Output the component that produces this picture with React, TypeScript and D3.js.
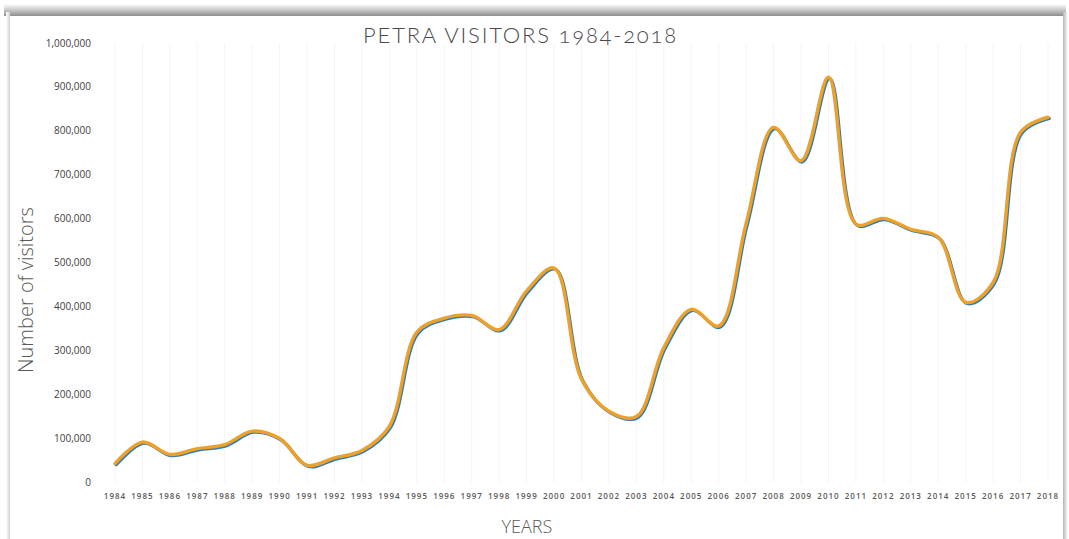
import React from "react";
import * as d3 from "d3";

const years: number[] = [
  1984, 1985, 1986, 1987, 1988, 1989, 1990, 1991, 1992, 1993, 1994, 1995,
  1996, 1997, 1998, 1999, 2000, 2001, 2002, 2003, 2004, 2005, 2006, 2007,
  2008, 2009, 2010, 2011, 2012, 2013, 2014, 2015, 2016, 2017, 2018,
];
const visitors: number[] = [
  43000, 92000, 64000, 77000, 86000, 117000, 100000, 39000, 56000, 73000,
  128000, 342000, 374000, 380000, 348000, 436000, 488000, 235000, 162000,
  150000, 307000, 394000, 356000, 590000, 808000, 732000, 922000, 588000,
  601000, 576000, 558000, 410000, 455000, 797000, 831000,
];
const yTicks: number[] = [0, 100000, 200000, 300000, 400000, 500000, 600000, 700000, 800000, 900000, 1000000];

const W = 1069;
const H = 539;

export default function App() {
  const x = d3.scaleLinear().domain([1984, 2018]).range([115, 1048]);
  const y = d3.scaleLinear().domain([0, 1000000]).range([482.5, 43]);
  const data = years.map((yr, i) => ({ yr, v: visitors[i] }));
  const line = d3
    .line<{ yr: number; v: number }>()
    .x((d) => x(d.yr))
    .y((d) => y(d.v))
    .curve(d3.curveCatmullRom.alpha(0.5));
  const path = line(data) || "";
  const fmt = d3.format(",");
  const font = "'Open Sans', 'Liberation Sans', sans-serif";

  return (
    <svg
      width={W}
      height={H}
      style={{ position: "absolute", left: 0, top: 0, background: "#fff" }}
      fontFamily={font}
    >
      <defs>
        <linearGradient id="topShadow" x1="0" y1="0" x2="0" y2="1">
          <stop offset="0" stopColor="#ffffff" />
          <stop offset="0.5" stopColor="#c8c8c8" />
          <stop offset="1" stopColor="#8e8e8e" />
        </linearGradient>
        <linearGradient id="rightShadow" x1="0" y1="0" x2="1" y2="0">
          <stop offset="0" stopColor="#b5b5b5" />
          <stop offset="1" stopColor="#ffffff" />
        </linearGradient>
        <linearGradient id="leftShadow" x1="1" y1="0" x2="0" y2="0">
          <stop offset="0" stopColor="#d0d0d0" />
          <stop offset="1" stopColor="#ffffff" />
        </linearGradient>
      </defs>
      {/* card frame */}
      <rect x={4} y={4} width={1062} height={12} fill="url(#topShadow)" />
      <rect x={1063} y={12} width={5} height={H} fill="url(#rightShadow)" />
      <rect x={6} y={12} width={4} height={H} fill="url(#leftShadow)" />
      <rect x={10} y={16} width={1053} height={H} fill="#ffffff" />

      {/* vertical gridlines */}
      {years.map((yr) => (
        <line
          key={"g" + yr}
          x1={x(yr)}
          x2={x(yr)}
          y1={y(1000000)}
          y2={y(0)}
          stroke="#f4f4f4"
          strokeWidth={1}
        />
      ))}

      {/* title */}
      <text
        x={520.5}
        y={43}
        textAnchor="middle"
        fontSize={22}
        fontWeight={300}
        letterSpacing={1.8}
        fill="#4a4a4a"
        style={{ fontFamily: "Lato, 'Open Sans', sans-serif", fontVariantNumeric: "oldstyle-nums" }}
      >
        PETRA VISITORS 1984-2018
      </text>

      {/* y tick labels */}
      {yTicks.map((t) => (
        <text
          key={"y" + t}
          x={91}
          y={y(t)}
          dy="0.35em"
          textAnchor="end"
          fontSize={10}
          fill="#404040"
        >
          {fmt(t)}
        </text>
      ))}

      {/* x tick labels */}
      {years.map((yr) => (
        <text
          key={"x" + yr}
          x={x(yr)}
          y={499}
          textAnchor="middle"
          fontSize={8}
          fontWeight={600}
          letterSpacing={1}
          fill="#595959"
        >
          {yr}
        </text>
      ))}

      {/* axis titles */}
      <text
        transform={`translate(33,290) rotate(-90)`}
        textAnchor="middle"
        fontSize={20}
        fontWeight={300}
        fill="#595959"
      >
        Number of visitors
      </text>
      <text x={527} y={533} textAnchor="middle" fontSize={18} fontWeight={300} fill="#595959">
        YEARS
      </text>

      {/* line: blue shadow + orange */}
      <path
        d={path}
        transform="translate(1.2,1.2)"
        fill="none"
        stroke="#2f7db5"
        strokeWidth={3.2}
        strokeLinecap="round"
        strokeLinejoin="round"
      />
      <path
        d={path}
        fill="none"
        stroke="#eea12a"
        strokeWidth={3.4}
        strokeLinecap="round"
        strokeLinejoin="round"
      />
    </svg>
  );
}
